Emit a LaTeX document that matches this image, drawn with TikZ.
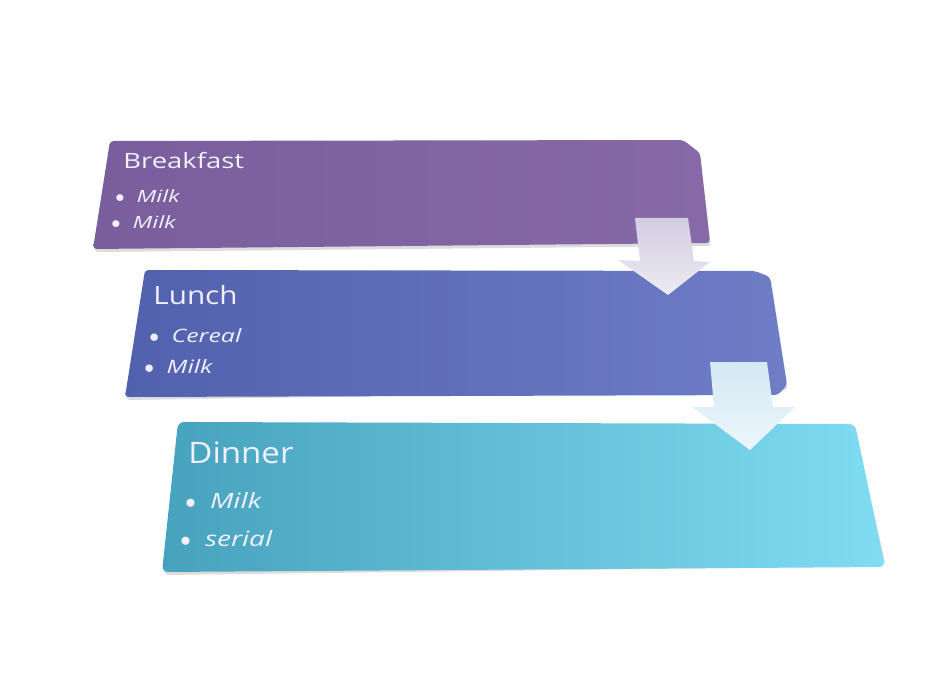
\documentclass[tikz,border=0pt]{standalone}
\usepackage{fontspec}
\setmainfont{Open Sans}
\usetikzlibrary{calc}
\definecolor{bfL}{HTML}{7A5D9C}
\definecolor{bfR}{HTML}{8669A6}
\definecolor{luL}{HTML}{5261AD}
\definecolor{luR}{HTML}{6F7DC7}
\definecolor{diL}{HTML}{47A2BD}
\definecolor{diR}{HTML}{80DCF2}
\definecolor{arA}{HTML}{D2CDE2}
\definecolor{arB}{HTML}{D3E9F4}
\newcommand\itembul{\scalebox{.75}[1]{$\bullet$}\hspace{0.5em}}
\begin{document}
\begin{tikzpicture}[x=0.2mm,y=-0.2mm,
    title/.style={anchor=base west,inner sep=0pt,text=white!94!blue},
    item/.style={anchor=base west,inner sep=0pt,text=white!94!blue,font=\itshape\fontsize{#1}{#1}\selectfont},
    boxshadow/.style={fill=black!30,opacity=.45}]
    \useasboundingbox (0,0) rectangle (937,700);
    % boxes
    \fill[boxshadow,rounded corners=2] (111,143)--(700,155)--(711,246)--(94,252)--cycle;
    \shade[left color=bfL,right color=bfR,rounded corners=2] (110,141)--(683,140)--(700,153)--(710,243)--(93,249)--cycle;
    \fill[boxshadow,rounded corners=2] (146,272)--(771,279)--(788,390)--(126,400)--cycle;
    \shade[left color=luL,right color=luR,rounded corners=2] (145,270)--(755,271)--(770,277)--(787,385)--(778,395)--(125,397)--cycle;
    \fill[boxshadow,rounded corners=3.5] (179,425)--(854,427)--(886,566)--(163,575)--cycle;
    \shade[left color=diL,right color=diR,rounded corners=3.5] (178,422)--(855,424)--(885,567)--(162,572)--cycle;
    % arrows
    \shade[top color=arA,bottom color=arA!40!white] (635,218)--(688,218)--(694,261)--(710,262)--(668,295)--(618,260)--(640,261)--cycle;
    \shade[top color=arB,bottom color=arB!40!white] (710,362)--(767,362)--(773,407)--(795,407)--(750,450)--(692,407)--(714,407)--cycle;
    % texts
    \node[title,font=\fontsize{12}{12}\selectfont,xscale=1.3] (bf) at (123,169) {Breakfast};
    \node[item=9.6,xscale=1.4] (bf1) at (115,203) {\itembul Milk};
    \node[item=9.6,xscale=1.4] (bf2) at (111,229) {\itembul Milk};
    \node[title,font=\fontsize{14.3}{14.3}\selectfont,xscale=1.18] (lu) at (153,305) {Lunch};
    \node[item=10.5,xscale=1.35] (lu1) at (149,343) {\itembul Cereal};
    \node[item=10.5,xscale=1.35] (lu2) at (144,373) {\itembul Milk};
    \node[title,font=\fontsize{16.8}{16.8}\selectfont,xscale=1.12] (di) at (188,463) {Dinner};
    \node[item=12,xscale=1.33] (di1) at (185,508) {\itembul Milk};
    \node[item=12,xscale=1.33] (di2) at (180,546) {\itembul serial};
\end{tikzpicture}
\end{document}
